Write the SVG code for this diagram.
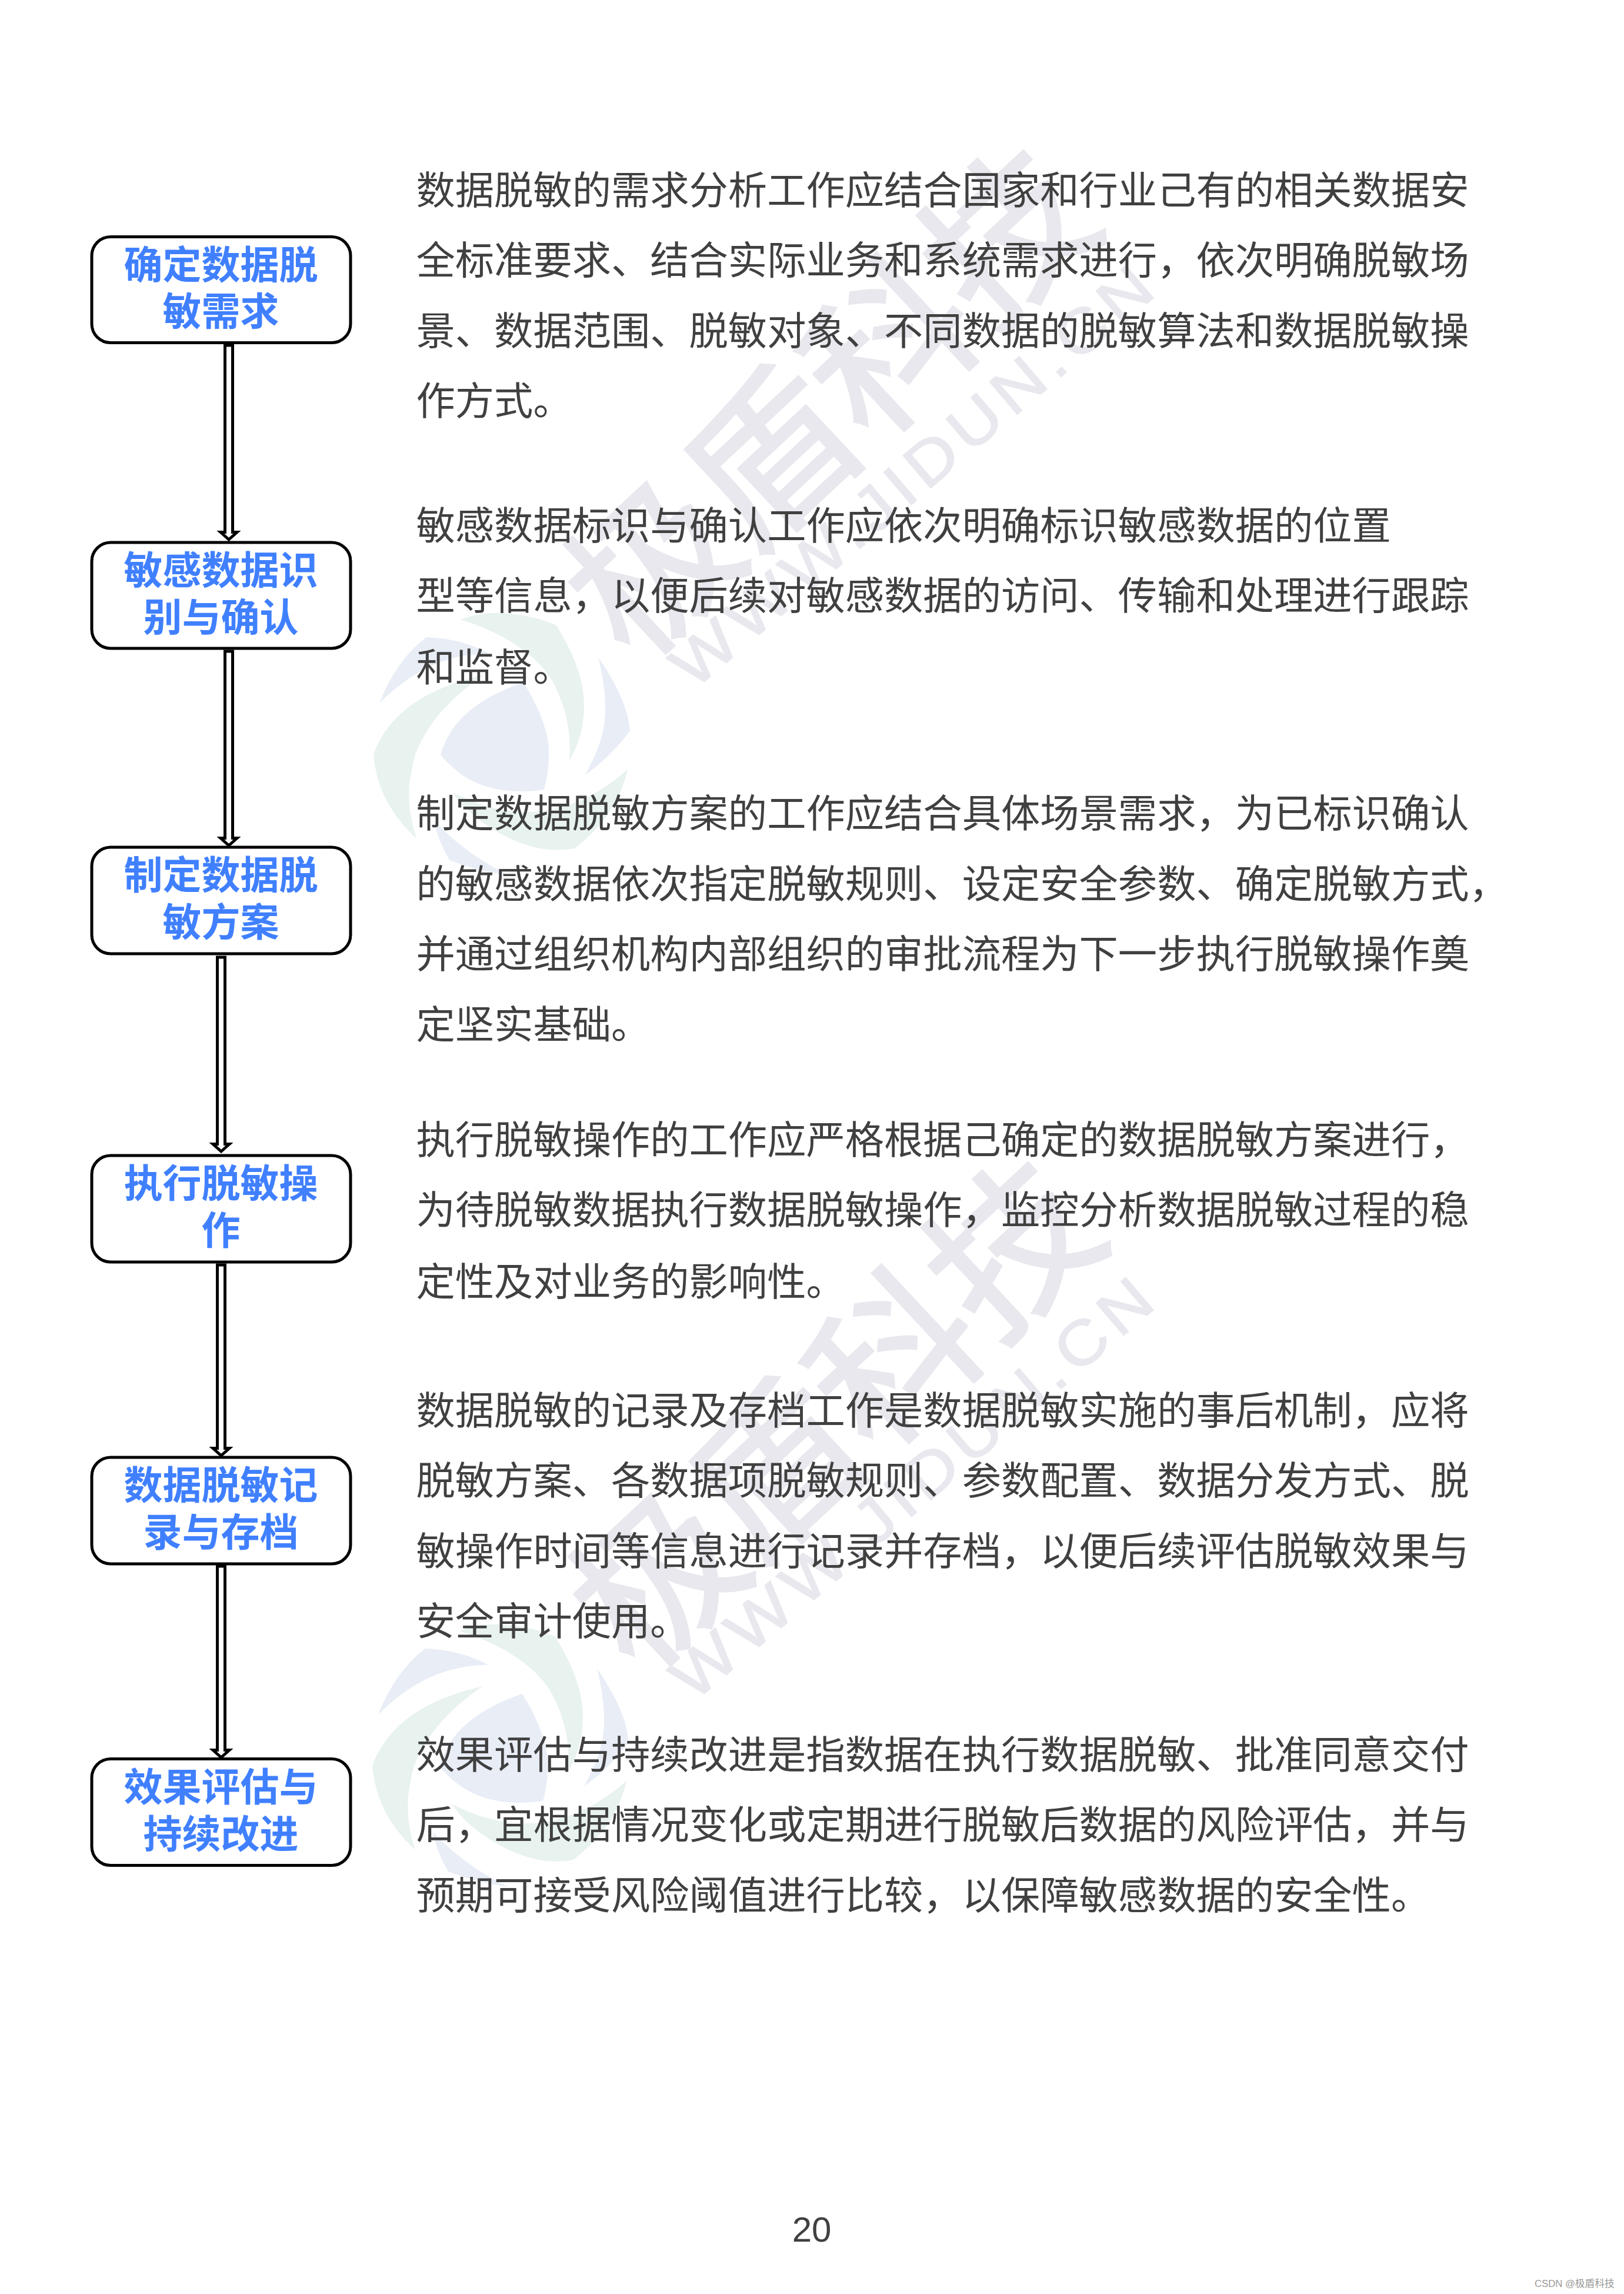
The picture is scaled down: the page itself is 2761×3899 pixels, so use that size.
<svg xmlns="http://www.w3.org/2000/svg" width="2761" height="3899" viewBox="0 0 2761 3899">
<style>
.wc{font-family:"Noto Sans CJK SC","Noto Sans",sans-serif;font-size:275px;fill:#e8e8ee;stroke:#e8e8ee;stroke-width:5;text-anchor:middle}
.wl{font-family:"Liberation Sans",Arial,sans-serif;font-size:105px;letter-spacing:10.5px;fill:#e8e8ee;stroke:#e8e8ee;stroke-width:2}
.lb{fill:#e8edf6}.lg{fill:#e8f2ee}
.box{fill:none;stroke:#000;stroke-width:5}
.nt{font-family:"Noto Sans CJK SC",sans-serif;font-size:66px;font-weight:700;fill:#4080ff;text-anchor:middle}
.bt{font-family:"Noto Sans CJK SC",sans-serif;font-size:66.3px;fill:#404040}
.ar{fill:#fff;stroke:#000;stroke-width:5;stroke-miterlimit:10}
</style>
<defs>
<g id="logo">
<path class="lb" d="M890,1160 C918,1205 935,1250 933,1283 Q933,1315 925,1342 C865,1350 800,1345 749,1283 C765,1225 815,1185 890,1160 Z"/>
<path class="lg" d="M783,1053 Q815,1040 854,1042 Q905,1045 946,1063 C975,1110 993,1155 993,1200 Q993,1250 968,1292 C972,1240 960,1200 944,1167 C925,1125 870,1080 783,1053 Z"/>
<path class="lb" d="M645,1195 Q675,1120 725,1083 Q785,1085 832,1111 Q730,1110 645,1195 Z"/>
<path class="lg" d="M823,1147 C745,1165 665,1200 635,1282 C640,1340 665,1385 708,1425 C690,1370 695,1330 700,1310 C705,1260 750,1195 823,1147 Z"/>
<path class="lb" d="M1017,1117 C1050,1165 1068,1205 1071,1242 Q1040,1285 995,1317 C1020,1270 1030,1240 1029,1200 Q1028,1160 1017,1117 Z"/>
<path class="lg" d="M1067,1308 Q1050,1385 977,1442 Q930,1450 886,1433 C840,1415 795,1385 770,1347 C815,1370 860,1382 899,1380 C960,1380 1020,1350 1067,1308 Z"/>
<path class="lb" d="M738,1395 Q745,1430 764,1462 Q810,1480 865,1488 Q790,1450 738,1395 Z"/>
</g>
</defs>
<rect width="2761" height="3899" fill="#fff"/>
<g id="watermarks">
<use href="#logo"/>
<use href="#logo" transform="translate(-2,1719)"/>
<text class="wc" transform="translate(1409,680) rotate(-43)" y="104">极盾科技</text>
<text class="wl" transform="translate(1179,1174) rotate(-40.5) scale(1.12,1)">WWW.JIDUN.CN</text>
<text class="wc" transform="translate(1417,2400) rotate(-43)" y="104">极盾科技</text>
<text class="wl" transform="translate(1179,2894) rotate(-40.5) scale(1.12,1)">WWW.JIDUN.CN</text>
</g>
<g id="connectors">
<path class="ar" d="M382.5,587 H395.5 V904.5 H403 L389,917 L375,904.5 H382.5 Z"/>
<path class="ar" d="M382.5,1107 H395.5 V1424.5 H403 L389,1437 L375,1424.5 H382.5 Z"/>
<path class="ar" d="M369.5,1627 H382.5 V1944.5 H390 L376,1957 L362,1944.5 H369.5 Z"/>
<path class="ar" d="M369.5,2150 H382.5 V2461.5 H390 L376,2474 L362,2461.5 H369.5 Z"/>
<path class="ar" d="M369.5,2662 H382.5 V2974.5 H390 L376,2987 L362,2974.5 H369.5 Z"/>
</g>
<g id="node1"><rect class="box" x="156" y="402.5" width="440" height="180" rx="32"/><text class="nt" x="375.5" y="474">确定数据脱</text><text class="nt" x="375.5" y="553">敏需求</text></g>
<g id="node2"><rect class="box" x="156" y="922" width="440" height="180" rx="32"/><text class="nt" x="375.5" y="993">敏感数据识</text><text class="nt" x="375.5" y="1073">别与确认</text></g>
<g id="node3"><rect class="box" x="156" y="1440" width="440" height="181" rx="32"/><text class="nt" x="375.5" y="1511">制定数据脱</text><text class="nt" x="375.5" y="1591">敏方案</text></g>
<g id="node4"><rect class="box" x="156" y="1964" width="440" height="181" rx="32"/><text class="nt" x="375.5" y="2035">执行脱敏操</text><text class="nt" x="375.5" y="2115">作</text></g>
<g id="node5"><rect class="box" x="156" y="2477" width="440" height="181" rx="32"/><text class="nt" x="375.5" y="2548">数据脱敏记</text><text class="nt" x="375.5" y="2628">录与存档</text></g>
<g id="node6"><rect class="box" x="156" y="2989.5" width="440" height="181" rx="32"/><text class="nt" x="375.5" y="3061">效果评估与</text><text class="nt" x="375.5" y="3141">持续改进</text></g>
<g id="para1">
<text class="bt" x="707.5" y="347">数据脱敏的需求分析工作应结合国家和行业己有的相关数据安</text>
<text class="bt" x="707.5" y="466">全标准要求、结合实际业务和系统需求进行，依次明确脱敏场</text>
<text class="bt" x="707.5" y="586">景、数据范围、脱敏对象、不同数据的脱敏算法和数据脱敏操</text>
<text class="bt" x="707.5" y="705">作方式。</text>
</g>
<g id="para2">
<text class="bt" x="707.5" y="917">敏感数据标识与确认工作应依次明确标识敏感数据的位置</text>
<text class="bt" x="707.5" y="1036">型等信息，以便后续对敏感数据的访问、传输和处理进行跟踪</text>
<text class="bt" x="707.5" y="1158">和监督。</text>
</g>
<g id="para3">
<text class="bt" x="707.5" y="1406">制定数据脱敏方案的工作应结合具体场景需求，为已标识确认</text>
<text class="bt" x="707.5" y="1526">的敏感数据依次指定脱敏规则、设定安全参数、确定脱敏方式，</text>
<text class="bt" x="707.5" y="1645">并通过组织机构内部组织的审批流程为下一步执行脱敏操作奠</text>
<text class="bt" x="707.5" y="1765">定坚实基础。</text>
</g>
<g id="para4">
<text class="bt" x="707.5" y="1961">执行脱敏操作的工作应严格根据己确定的数据脱敏方案进行，</text>
<text class="bt" x="707.5" y="2080">为待脱敏数据执行数据脱敏操作，监控分析数据脱敏过程的稳</text>
<text class="bt" x="707.5" y="2202">定性及对业务的影响性。</text>
</g>
<g id="para5">
<text class="bt" x="707.5" y="2421">数据脱敏的记录及存档工作是数据脱敏实施的事后机制，应将</text>
<text class="bt" x="707.5" y="2540">脱敏方案、各数据项脱敏规则、参数配置、数据分发方式、脱</text>
<text class="bt" x="707.5" y="2660">敏操作时间等信息进行记录并存档，以便后续评估脱敏效果与</text>
<text class="bt" x="707.5" y="2779">安全审计使用。</text>
</g>
<g id="para6">
<text class="bt" x="707.5" y="3006">效果评估与持续改进是指数据在执行数据脱敏、批准同意交付</text>
<text class="bt" x="707.5" y="3125">后，宜根据情况变化或定期进行脱敏后数据的风险评估，并与</text>
<text class="bt" x="707.5" y="3245">预期可接受风险阈值进行比较，以保障敏感数据的安全性。</text>
</g>
<text id="page" x="1380" y="3810" font-family="Liberation Sans,Arial,sans-serif" font-size="60" fill="#404040" text-anchor="middle">20</text>
<text id="credit" x="2609" y="3887" font-family="Liberation Sans,Noto Sans CJK SC,sans-serif" font-size="16.7" fill="#999">CSDN @极盾科技</text>
</svg>
